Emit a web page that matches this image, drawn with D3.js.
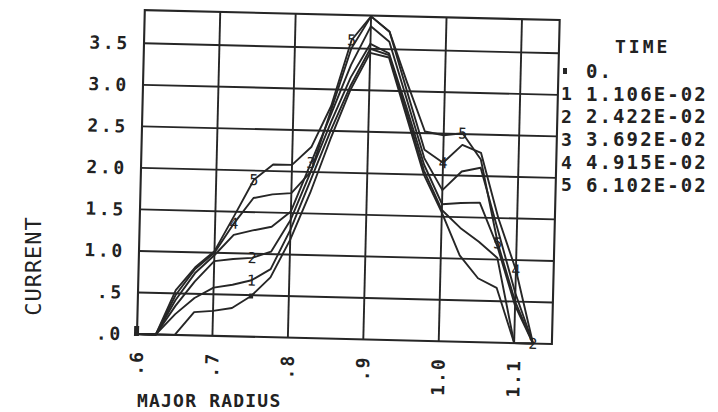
<!DOCTYPE html>
<html>
<head>
<meta charset="utf-8">
<script src="https://cdn.jsdelivr.net/npm/d3@7"></script>
<style>
    body { margin: 0; background: #fff; }
    text { font-family: "DejaVu Sans Mono", monospace; fill: #222; font-weight: bold; }
</style>
</head>
<body>
<svg id="chart" width="718" height="412"></svg>
<script>
// major radius of the mesh points
const radius = [0.6, 0.625, 0.65, 0.675, 0.7, 0.725, 0.75, 0.775, 0.8, 0.825, 0.85,
    0.875, 0.9, 0.925, 0.95, 0.975, 1.0, 1.025, 1.05, 1.075, 1.1, 1.125];

// current profile at each saved time
const current0 = [0, 0, 0, 0.28, 0.30, 0.34, 0.49, 0.72, 1.18, 1.75, 2.40,
    3.00, 3.45, 3.40, 2.70, 2.00, 1.55, 1.04, 0.77, 0.66, 0, 0];
const current1 = [0, 0, 0.25, 0.45, 0.58, 0.62, 0.68, 0.82, 1.30, 1.90, 2.50,
    3.05, 3.50, 3.43, 2.75, 2.05, 1.58, 1.37, 1.21, 1.02, 0, 0];
const current2 = [0, 0, 0.35, 0.65, 0.90, 0.93, 0.95, 1.03, 1.42, 2.00, 2.60,
    3.15, 3.56, 3.45, 2.80, 2.12, 1.65, 1.67, 1.68, 1.15, 0.45, 0];
const current3 = [0, 0, 0.42, 0.75, 0.97, 1.22, 1.28, 1.33, 1.52, 2.11, 2.70,
    3.30, 3.77, 3.59, 2.90, 2.20, 1.82, 2.05, 2.10, 1.35, 0.60, 0];
const current4 = [0, 0, 0.48, 0.80, 1.00, 1.36, 1.67, 1.72, 1.74, 2.00, 2.75,
    3.50, 3.89, 3.71, 3.00, 2.30, 2.15, 2.37, 2.28, 1.50, 0.88, 0];
const current5 = [0, 0, 0.54, 0.82, 1.02, 1.45, 1.89, 2.08, 2.08, 2.30, 2.80,
    3.60, 3.89, 3.71, 3.10, 2.52, 2.48, 2.51, 2.20, 1.20, 0.50, 0];

const timeLabels = ['0.', '1.106E-02', '2.422E-02', '3.692E-02', '4.915E-02', '6.102E-02'];
const symbols = ['', '1', '2', '3', '4', '5'];

const xTicks = [0.6, 0.7, 0.8, 0.9, 1.0, 1.1];
const yTicks = [0, 0.5, 1.0, 1.5, 2.0, 2.5, 3.0, 3.5];

// [series, point index] where the curve number is written
const markers = [[0, 0], [0, 6], [1, 6], [2, 6], [2, 21], [3, 9], [4, 5], [4, 16], [4, 20],
    [5, 6], [5, 11], [5, 17], [5, 19]];

const series = [current0, current1, current2, current3, current4, current5];

const svg = d3.select('#chart');
const ink = '#262626';

const x = d3.scaleLinear().domain([0.6, 1.15]).range([137, 552]);
const y = d3.scaleLinear().domain([0, 3.9]).range([334, 10]);

// the scanned plot sits slightly tilted
const plot = svg.append('g').attr('transform', 'rotate(1.38,137,334)');

plot.append('g').selectAll('line')
    .data(xTicks.slice(1))
    .join('line')
    .attr('x1', d => x(d)).attr('x2', d => x(d))
    .attr('y1', y(0)).attr('y2', y(3.9))
    .attr('stroke', ink).attr('stroke-width', 1.9);

plot.append('g').selectAll('line')
    .data(yTicks.slice(1))
    .join('line')
    .attr('x1', x(0.6)).attr('x2', x(1.15))
    .attr('y1', d => y(d)).attr('y2', d => y(d))
    .attr('stroke', ink).attr('stroke-width', 1.9);

plot.append('rect')
    .attr('x', x(0.6)).attr('y', y(3.9))
    .attr('width', x(1.15) - x(0.6)).attr('height', y(0) - y(3.9))
    .attr('fill', 'none').attr('stroke', ink).attr('stroke-width', 2.1);

const line = d3.line()
    .x((d, i) => x(radius[i]))
    .y(d => y(d));

plot.append('g').selectAll('path')
    .data(series)
    .join('path')
    .attr('d', line)
    .attr('fill', 'none')
    .attr('stroke', ink)
    .attr('stroke-width', 1.9)
    .attr('stroke-linejoin', 'round');

// curve numbers
markers.forEach(function (m) {
    let px = x(radius[m[1]]);
    let py = y(series[m[0]][m[1]]);
    if (m[0] === 0) {
        let big = m[1] === 0;
        plot.append('rect')
            .attr('x', px - (big ? 3 : 2)).attr('y', py - (big ? 8 : 2.5))
            .attr('width', big ? 5 : 4).attr('height', big ? 10 : 5)
            .attr('fill', ink);
    } else {
        plot.append('text')
            .attr('x', px).attr('y', py)
            .attr('dy', '0.36em')
            .attr('text-anchor', 'middle')
            .style('font-size', '15px')
            .style('font-weight', 'normal')
            .text(symbols[m[0]]);
    }
});

// tick labels
function tickText(v) {
    return d3.format('.1f')(v).replace(/^0/, '');
}

plot.append('g').selectAll('text')
    .data(yTicks)
    .join('text')
    .attr('x', x(0.6) - 14)
    .attr('y', d => y(d))
    .attr('dy', '0.36em')
    .attr('text-anchor', 'end')
    .style('font-size', '18px')
    .style('letter-spacing', '2.7px')
    .text(tickText);

plot.append('g').selectAll('text')
    .data(xTicks)
    .join('text')
    .attr('transform', d => 'translate(' + x(d) + ',' + (y(0) + 16) + ') rotate(-90)')
    .attr('dy', '0.36em')
    .attr('text-anchor', 'end')
    .style('font-size', '18px')
    .style('letter-spacing', '2px')
    .text(tickText);

// axis titles
svg.append('text')
    .attr('transform', 'translate(33,266) rotate(-90)')
    .attr('dy', '0.36em')
    .attr('text-anchor', 'middle')
    .style('font-size', '22px')
    .style('font-weight', 'normal')
    .style('letter-spacing', '1px')
    .text('CURRENT');

svg.append('text')
    .attr('x', 137).attr('y', 407)
    .style('font-size', '18px')
    .style('letter-spacing', '1.2px')
    .text('MAJOR RADIUS');

// legend
const legend = svg.append('g');

legend.append('text')
    .attr('x', 615).attr('y', 47)
    .attr('dy', '0.36em')
    .style('font-size', '18px')
    .style('letter-spacing', '3px')
    .text('TIME');

timeLabels.forEach(function (t, i) {
    let ry = 71 + i * 22.8;
    if (i === 0) {
        legend.append('rect')
            .attr('x', 563).attr('y', ry - 3)
            .attr('width', 4).attr('height', 6)
            .attr('fill', ink);
    } else {
        legend.append('text')
            .attr('x', 561).attr('y', ry)
            .attr('dy', '0.36em')
            .style('font-size', '18px')
            .text(symbols[i]);
    }
    legend.append('text')
        .attr('x', 586).attr('y', ry)
        .attr('dy', '0.36em')
        .style('font-size', '19px')
        .style('letter-spacing', '2.1px')
        .text(t);
});
</script>
</body>
</html>
